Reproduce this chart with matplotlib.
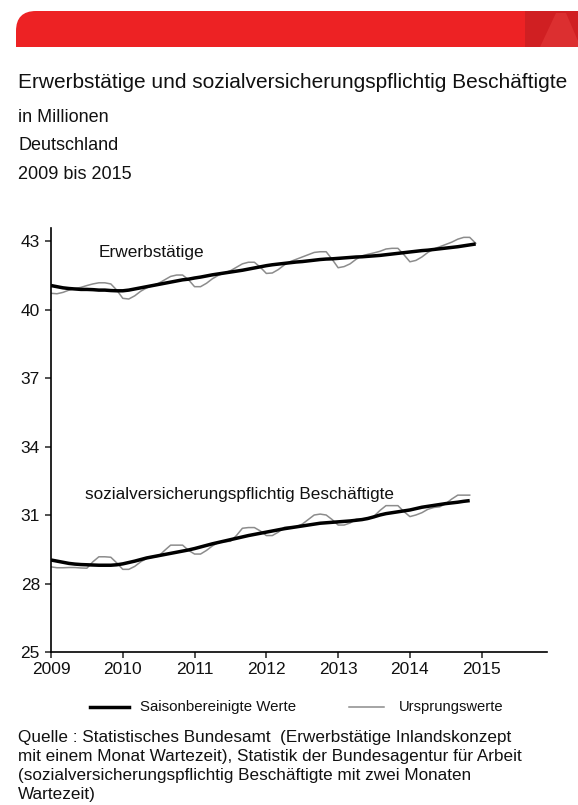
import matplotlib
matplotlib.use("Agg")
import matplotlib.pyplot as plt
from matplotlib.path import Path
from matplotlib.patches import PathPatch, Polygon
from matplotlib.lines import Line2D
import numpy as np

plt.rcParams['font.family'] = ['Liberation Sans', 'DejaVu Sans']

# ---- data (millions), monthly from Jan 2009 ----
erw_sa = [41.05, 41.00, 40.95, 40.92, 40.90, 40.88, 40.88, 40.87, 40.85, 40.85, 40.83, 40.82,
          40.82, 40.85, 40.90, 40.95, 41.00, 41.05, 41.10, 41.15, 41.20, 41.25, 41.30, 41.33,
          41.38, 41.42, 41.47, 41.52, 41.56, 41.60, 41.64, 41.68, 41.72, 41.77, 41.82, 41.87,
          41.92, 41.96, 41.99, 42.02, 42.05, 42.08, 42.10, 42.13, 42.16, 42.19, 42.21, 42.22,
          42.24, 42.26, 42.28, 42.30, 42.31, 42.33, 42.35, 42.37, 42.40, 42.43, 42.46, 42.49,
          42.52, 42.55, 42.58, 42.60, 42.63, 42.66, 42.69, 42.72, 42.75, 42.79, 42.83, 42.87]
erw_orig = [40.71, 40.69, 40.75, 40.85, 40.92, 40.97, 41.05, 41.12, 41.17, 41.17, 41.12, 40.85,
            40.49, 40.46, 40.60, 40.80, 40.95, 41.05, 41.15, 41.30, 41.45, 41.51, 41.51, 41.30,
            41.00, 41.00, 41.15, 41.35, 41.50, 41.60, 41.70, 41.85, 42.00, 42.07, 42.07, 41.85,
            41.58, 41.60, 41.75, 41.95, 42.10, 42.20, 42.30, 42.40, 42.50, 42.53, 42.53, 42.20,
            41.83, 41.88, 42.00, 42.20, 42.35, 42.42, 42.48, 42.55, 42.65, 42.68, 42.68, 42.40,
            42.09, 42.15, 42.30, 42.50, 42.65, 42.75, 42.85, 42.95, 43.08, 43.16, 43.16, 42.90]
svb_sa = [29.03, 28.98, 28.93, 28.88, 28.85, 28.83, 28.82, 28.81, 28.80, 28.80, 28.80, 28.82,
          28.86, 28.92, 28.98, 29.05, 29.12, 29.17, 29.22, 29.27, 29.32, 29.37, 29.42, 29.47,
          29.53, 29.60, 29.67, 29.74, 29.80, 29.86, 29.92, 29.98, 30.04, 30.10, 30.15, 30.20,
          30.25, 30.30, 30.35, 30.40, 30.44, 30.48, 30.52, 30.56, 30.60, 30.64, 30.66, 30.68,
          30.70, 30.72, 30.74, 30.77, 30.80, 30.85, 30.92, 31.00, 31.06, 31.10, 31.14, 31.18,
          31.22, 31.28, 31.34, 31.38, 31.42, 31.46, 31.50, 31.53, 31.56, 31.60, 31.63]
svb_orig = [28.73, 28.69, 28.69, 28.70, 28.70, 28.68, 28.67, 28.95, 29.17, 29.17, 29.15, 28.90,
            28.62, 28.62, 28.75, 28.95, 29.10, 29.15, 29.20, 29.45, 29.68, 29.68, 29.68, 29.45,
            29.29, 29.29, 29.45, 29.65, 29.80, 29.83, 29.85, 30.10, 30.42, 30.45, 30.45, 30.30,
            30.10, 30.10, 30.25, 30.46, 30.49, 30.49, 30.60, 30.80, 31.00, 31.04, 31.00, 30.80,
            30.56, 30.56, 30.65, 30.81, 30.81, 30.81, 30.95, 31.20, 31.41, 31.41, 31.41, 31.15,
            30.93, 31.00, 31.10, 31.25, 31.33, 31.36, 31.50, 31.70, 31.87, 31.87, 31.87]
years = [2009, 2010, 2011, 2012, 2013, 2014, 2015]
yticks = [25, 28, 31, 34, 37, 40, 43]

x_erw = 2009 + np.arange(len(erw_sa)) / 12.0
x_svb = 2009 + np.arange(len(svb_sa)) / 12.0

W, H = 578, 805
fig = plt.figure(figsize=(W / 100, H / 100), dpi=100)

def fx(px):
    return px / W

def fy(py):
    return 1 - py / H

TXT = '#111111'

# ---- red banner ----
ax_bg = fig.add_axes([0, 0, 1, 1])
ax_bg.set_xlim(0, W)
ax_bg.set_ylim(H, 0)
ax_bg.axis('off')
x0, x1, y0, y1, r = 16, 578, 11, 47, 20
verts = [(x0, y1), (x0, y0 + r), (x0, y0), (x0 + r, y0), (x1, y0), (x1, y1), (x0, y1)]
codes = [Path.MOVETO, Path.LINETO, Path.CURVE3, Path.CURVE3, Path.LINETO, Path.LINETO, Path.CLOSEPOLY]
ax_bg.add_patch(PathPatch(Path(verts, codes), facecolor='#ED2224', edgecolor='none'))
ax_bg.add_patch(Polygon([(525, y0), (578, y0), (578, y1), (525, y1)], closed=True,
                        facecolor='#D01F22', edgecolor='none'))
ax_bg.add_patch(Polygon([(540, y1), (556, y0 + 2), (566, y0 + 2), (578, y1 - 6), (578, y1)],
                        closed=True, facecolor='#DC2F30', edgecolor='none'))

# ---- titles ----
fig.text(fx(18), fy(83), 'Erwerbstätige und sozialversicherungspflichtig Beschäftigte',
         fontsize=15, va='center', ha='left', color=TXT)
fig.text(fx(18), fy(118), 'in Millionen', fontsize=13, va='center', ha='left', color=TXT)
fig.text(fx(18), fy(146), 'Deutschland', fontsize=13, va='center', ha='left', color=TXT)
fig.text(fx(18), fy(174), '2009 bis 2015', fontsize=13, va='center', ha='left', color=TXT)

# ---- main axes ----
ax = fig.add_axes([fx(51), fy(652), fx(547) - fx(51), fy(228) - fy(652)])
ax.set_xlim(2009, 2015.91)
ax.set_ylim(25, 43.57)
ax.plot(x_erw, erw_orig, color='#8C8C8C', lw=1.1, zorder=2)
ax.plot(x_svb, svb_orig, color='#8C8C8C', lw=1.1, zorder=2)
ax.plot(x_erw, erw_sa, color='black', lw=2.5, zorder=3, solid_capstyle='butt')
ax.plot(x_svb, svb_sa, color='black', lw=2.5, zorder=3, solid_capstyle='butt')

for s in ['top', 'right']:
    ax.spines[s].set_visible(False)
for s in ['left', 'bottom']:
    ax.spines[s].set_linewidth(1.2)
    ax.spines[s].set_color('black')
ax.set_xticks(years)
ax.set_xticklabels([str(y) for y in years])
ax.set_yticks(yticks)
ax.set_yticklabels([str(v) for v in yticks])
ax.tick_params(axis='both', direction='out', length=4, width=1.2, color='#333333',
               labelsize=12.5, labelcolor=TXT)
ax.tick_params(axis='x', pad=3)
ax.tick_params(axis='y', pad=4)

ax.text(2009 + (99 - 51) / 71.8, 43 - (252 - 241) / 22.83, 'Erwerbstätige',
        fontsize=12.4, ha='left', va='center', color=TXT)
ax.text(2009 + (85 - 51) / 71.8, 43 - (494 - 241) / 22.83,
        'sozialversicherungspflichtig Beschäftigte',
        fontsize=12.3, ha='left', va='center', color=TXT)

# ---- legend ----
ax_bg.add_line(Line2D([90, 129], [707, 707], color='black', lw=2.5))
ax_bg.text(140, 707, 'Saisonbereinigte Werte', fontsize=10.8, va='center', ha='left', color=TXT)
ax_bg.add_line(Line2D([349, 384], [707, 707], color='#8C8C8C', lw=1.1))
ax_bg.text(399, 707, 'Ursprungswerte', fontsize=10.6, va='center', ha='left', color=TXT)

# ---- source ----
src = ['Quelle : Statistisches Bundesamt  (Erwerbstätige Inlandskonzept',
       'mit einem Monat Wartezeit), Statistik der Bundesagentur für Arbeit',
       '(sozialversicherungspflichtig Beschäftigte mit zwei Monaten',
       'Wartezeit)']
for i, line in enumerate(src):
    ax_bg.text(18, 737 + i * 19, line, fontsize=12.3, va='center', ha='left', color=TXT)

fig.savefig('out.png', dpi=100)
